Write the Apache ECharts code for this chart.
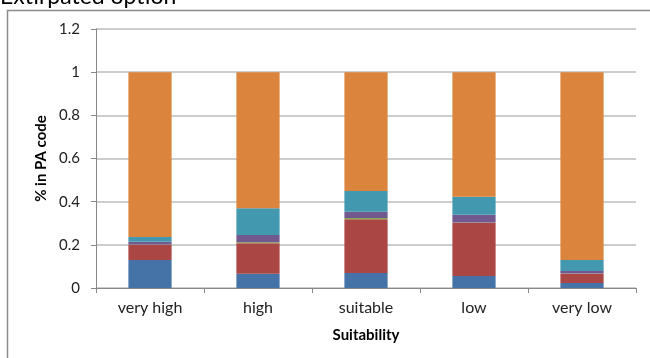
<!DOCTYPE html>
<html>
<head>
<meta charset="utf-8">
<script src="https://cdn.jsdelivr.net/npm/echarts@6/dist/echarts.min.js"></script>
<style>
  html, body { margin: 0; padding: 0; background: #fff; }
  #chart { width: 650px; height: 358px; }
</style>
</head>
<body>
<div id="chart"></div>
<script>
// Suitability classes on the x axis
const categories = ['very high', 'high', 'suitable', 'low', 'very low'];

// Share of each PA code within each suitability class (stacks sum to 1)
const seriesBlue   = [0.130, 0.066, 0.069, 0.056, 0.023];
const seriesRed    = [0.070, 0.141, 0.250, 0.246, 0.043];
const seriesGreen  = [0.002, 0.005, 0.005, 0.001, 0.001];
const seriesPurple = [0.012, 0.033, 0.029, 0.036, 0.012];
const seriesTeal   = [0.022, 0.124, 0.096, 0.084, 0.051];
const seriesOrange = [0.764, 0.631, 0.551, 0.577, 0.870];

const yTicks = [0, 0.2, 0.4, 0.6, 0.8, 1, 1.2];

const palette = ['#4572A7', '#AA4643', '#89A54E', '#71588F', '#4198AF', '#DB843D'];
const stacks = [seriesBlue, seriesRed, seriesGreen, seriesPurple, seriesTeal, seriesOrange];
const names = ['1', '2', '3', '4', '5', '6'];

const font = 'Lato, "Open Sans", sans-serif';

const chart = echarts.init(document.getElementById('chart'), null, { renderer: 'canvas' });

chart.setOption({
  animation: false,
  backgroundColor: '#ffffff',
  graphic: [
    {
      type: 'rect',
      shape: { x: 7.5, y: 10.5, width: 700, height: 400 },
      style: { fill: 'none', stroke: '#8c8c8c', lineWidth: 1.5 },
      silent: true
    },
    {
      type: 'text',
      left: 0,
      top: -15,
      style: { text: 'Extirpated option', font: '23px ' + font, fill: '#000' }
    }
  ],
  grid: { left: 96, right: 14, top: 29, bottom: 70, containLabel: false },
  xAxis: {
    type: 'category',
    data: categories,
    name: 'Suitability',
    nameLocation: 'middle',
    nameGap: 40,
    nameTextStyle: { fontFamily: font, fontSize: 15, fontWeight: 'bold', color: '#000' },
    axisLine: { lineStyle: { color: '#888', width: 1 } },
    axisTick: { show: true, alignWithLabel: false, length: 5, lineStyle: { color: '#888' } },
    axisLabel: { fontFamily: font, fontSize: 16, color: '#222', margin: 12 }
  },
  yAxis: {
    type: 'value',
    min: 0,
    max: 1.2,
    interval: 0.2,
    name: '% in PA code',
    nameLocation: 'middle',
    nameGap: 46,
    nameRotate: 90,
    nameTextStyle: { fontFamily: font, fontSize: 15, fontWeight: 'bold', color: '#000' },
    axisLine: { show: true, lineStyle: { color: '#888', width: 1 } },
    axisTick: { show: true, length: 5, lineStyle: { color: '#888' } },
    splitLine: { lineStyle: { color: '#bdbdbd', width: 1.5 } },
    axisLabel: {
      fontFamily: font, fontSize: 15, color: '#222', margin: 16,
      formatter: v => {
        const t = yTicks.find(x => Math.abs(x - v) < 1e-9);
        return t === undefined ? '' : String(t);
      }
    }
  },
  series: stacks.map((d, i) => ({
    name: names[i],
    type: 'bar',
    stack: 'pa',
    barWidth: '40%',
    itemStyle: { color: palette[i] },
    data: d
  }))
});
</script>
</body>
</html>
